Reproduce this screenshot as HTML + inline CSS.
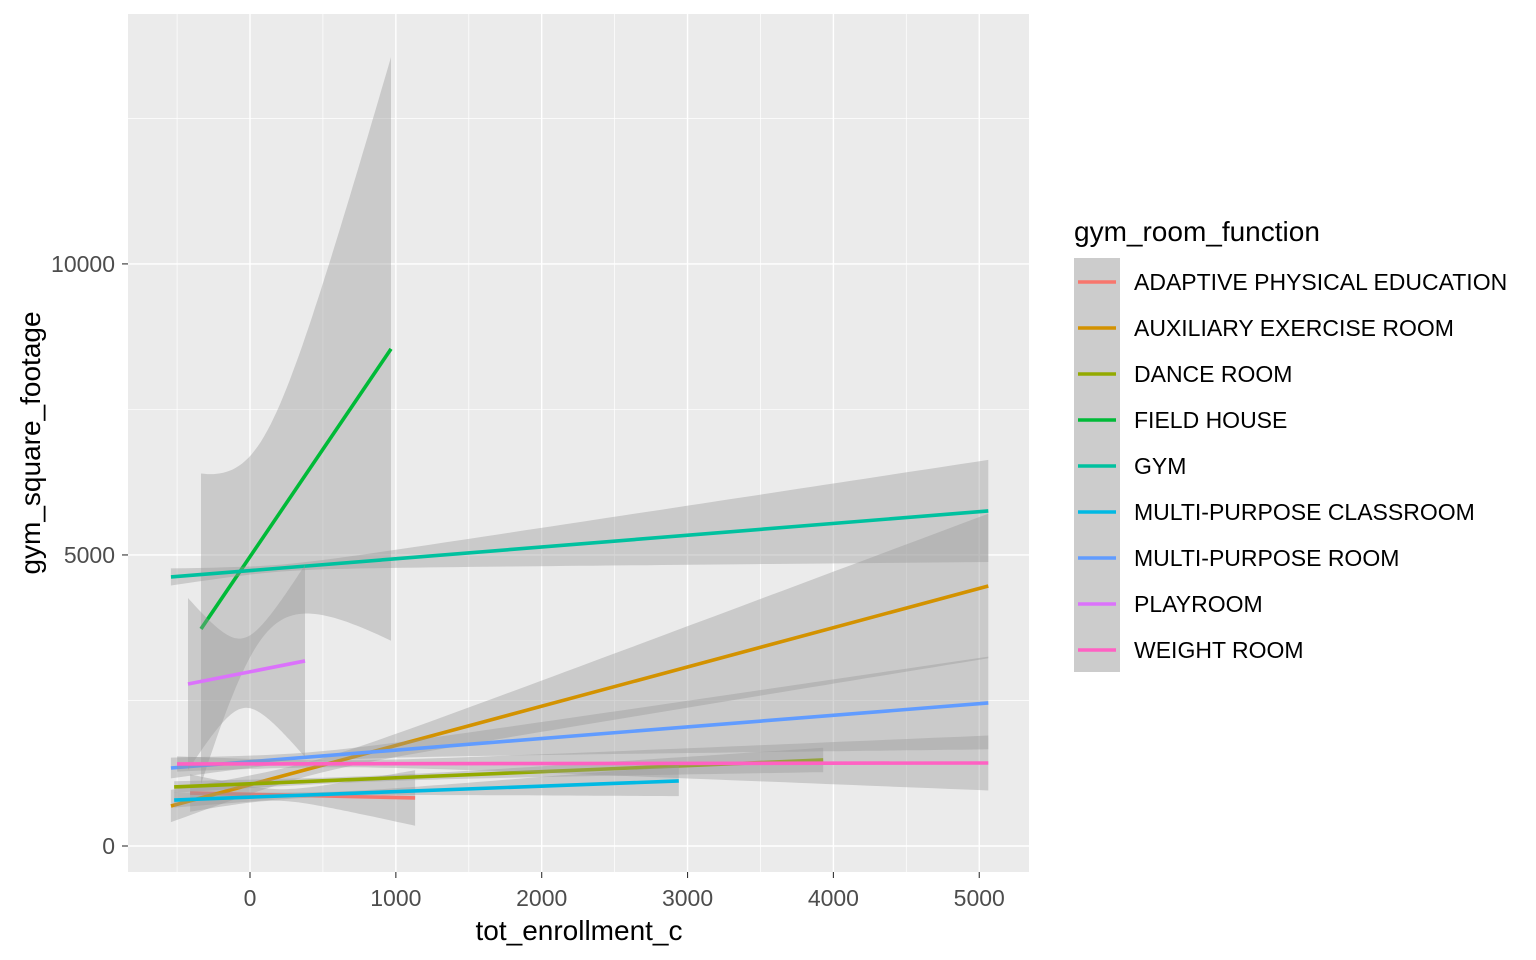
<!DOCTYPE html>
<html><head><meta charset="utf-8"><style>
body{margin:0;background:#fff;font-family:"Liberation Sans",Arial,sans-serif}
svg{display:block}
</style></head><body>
<svg id="chart" width="1536" height="960" xmlns="http://www.w3.org/2000/svg">
<rect x="128" y="14" width="901" height="858" fill="#EBEBEB"/>
<g id="grid"></g>
<defs><clipPath id="clip"><rect x="128" y="14" width="901" height="858"/></clipPath></defs>
<g id="marks" clip-path="url(#clip)"></g>
<g id="axes"></g>
<text x="579" y="940" font-size="28" text-anchor="middle" fill="#000">tot_enrollment_c</text>
<text transform="translate(40,443) rotate(-90)" font-size="28" text-anchor="middle" fill="#000">gym_square_footage</text>
<g id="legend">
<text x="1074" y="241" font-size="28" fill="#000">gym_room_function</text>
<rect x="1074" y="258" width="46" height="414" fill="#CCCCCC"/>
</g>
</svg>
<script>
const categories=["ADAPTIVE PHYSICAL EDUCATION","AUXILIARY EXERCISE ROOM","DANCE ROOM","FIELD HOUSE","GYM","MULTI-PURPOSE CLASSROOM","MULTI-PURPOSE ROOM","PLAYROOM","WEIGHT ROOM"];
const colors=["#F8766D","#D39200","#93AA00","#00BA38","#00C19F","#00B9E3","#619CFF","#DB72FB","#FF61C3"];
const xStart=[-411,-542,-520,-336,-542,-520,-542,-425,-500];
const xEnd=[1132,5062,3930,967,5062,2940,5062,377,5062];
const yStart=[910,687,1014,3729,4622,790,1340,2783,1409];
const yEnd=[825,4467,1478,8540,5756,1117,2457,3179,1426];
const seCenter=[200,400,800,60,200,600,400,-50,600];
const seMin=[100,120,50,1700,60,40,80,600,60];
const seSlope=[0.5,0.265,0.065,5.2,0.18,0.11,0.17,3.6,0.105];
const xTicks=[0,1000,2000,3000,4000,5000];
const yTicks=[0,5000,10000];
const NS="http://www.w3.org/2000/svg";
const X=v=>250+v*0.14585, Y=v=>846-v*0.05821;
function el(t,a,p){const e=document.createElementNS(NS,t);for(const k in a)e.setAttribute(k,a[k]);p.appendChild(e);return e;}
const grid=document.getElementById('grid'),marks=document.getElementById('marks'),axes=document.getElementById('axes');
for(let v=-500;v<=5000;v+=500){const major=v%1000===0;
 const l=el('line',{x1:X(v),x2:X(v),y1:14,y2:872,stroke:'#fff','stroke-width':major?1.4:0.7},grid);
 
 }
for(let v=0;v<=12500;v+=2500){const major=v%5000===0;
 const l=el('line',{x1:128,x2:1029,y1:Y(v),y2:Y(v),stroke:'#fff','stroke-width':major?1.4:0.7},grid);
 
 }
xTicks.forEach(v=>{el('line',{x1:X(v),x2:X(v),y1:872,y2:878,stroke:'#333','stroke-width':1.1},axes);
 const t=el('text',{x:X(v),y:906,'font-size':23,'text-anchor':'middle',fill:'#4D4D4D'},axes);t.textContent=v;
 
 });
yTicks.forEach(v=>{el('line',{x1:122,x2:128,y1:Y(v),y2:Y(v),stroke:'#333','stroke-width':1.1},axes);
 const t=el('text',{x:115,y:Y(v)+8,'font-size':23,'text-anchor':'end',fill:'#4D4D4D'},axes);t.textContent=v;
 
 });
categories.forEach((c,i)=>{
 const f=x=>yStart[i]+(yEnd[i]-yStart[i])*(x-xStart[i])/(xEnd[i]-xStart[i]);
 const hw=x=>Math.sqrt(seMin[i]**2+(seSlope[i]*(x-seCenter[i]))**2);
 const N=60,up=[],lo=[];
 for(let k=0;k<=N;k++){const x=xStart[i]+(xEnd[i]-xStart[i])*k/N;
  up.push(X(x).toFixed(1)+','+Y(f(x)+hw(x)).toFixed(1));lo.push(X(x).toFixed(1)+','+Y(f(x)-hw(x)).toFixed(1));}
 const r=el('polygon',{points:up.concat(lo.reverse()).join(' '),fill:'#999999','fill-opacity':0.4},marks);
 
 
 const l=el('line',{x1:X(xStart[i]),y1:Y(yStart[i]),x2:X(xEnd[i]),y2:Y(yEnd[i]),stroke:colors[i],'stroke-width':3.6},marks);
 
 
 const lg=document.getElementById('legend'),y=282+i*46;
 const k=el('line',{x1:1078,x2:1116,y1:y,y2:y,stroke:colors[i],'stroke-width':3.6},lg);
 
 
 const t=el('text',{x:1134,y:y+8,'font-size':23,fill:'#000'},lg);t.textContent=c;
 
 
});
</script>
</body></html>
